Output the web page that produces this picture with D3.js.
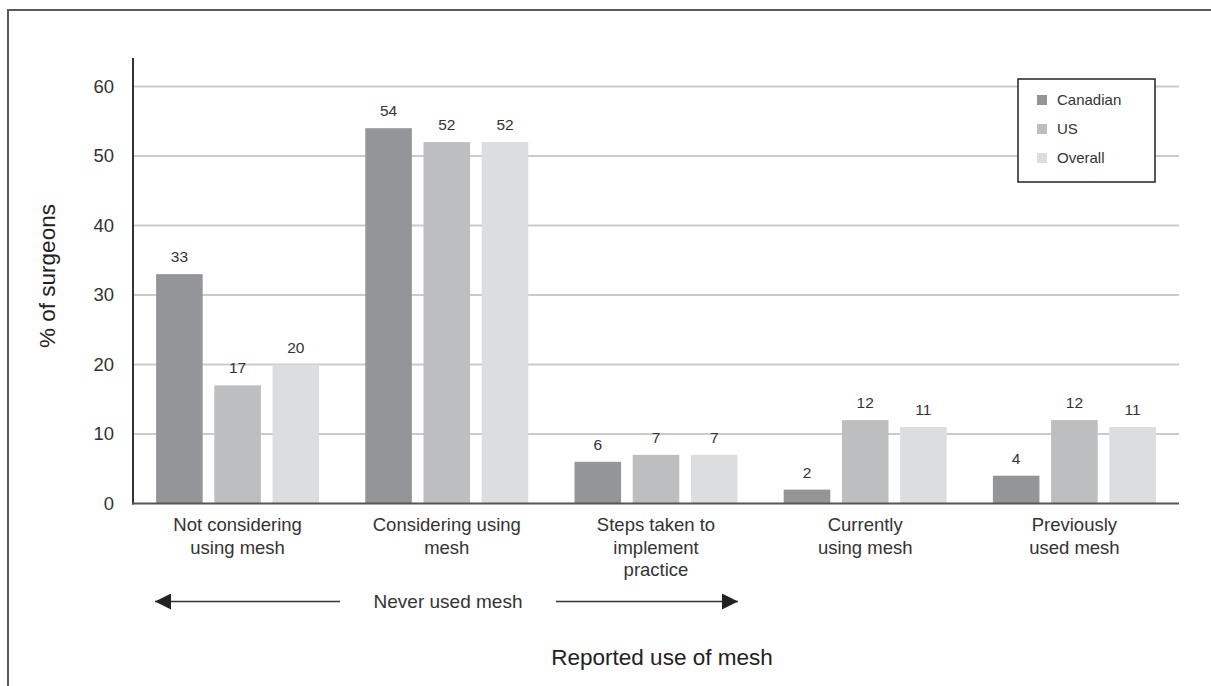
<!DOCTYPE html>
<html>
<head>
<meta charset="utf-8">
<script src="https://cdn.jsdelivr.net/npm/d3@7"></script>
<style>
  html, body { margin: 0; padding: 0; background: #fff; }
  svg { display: block; font-family: "Liberation Sans", Arial, sans-serif; }
</style>
</head>
<body>
<svg id="chart" width="1211" height="686"></svg>
<script>
// Survey responses: reported use of mesh, % of surgeons
const categories = [
  ["Not considering", "using mesh"],
  ["Considering using", "mesh"],
  ["Steps taken to", "implement", "practice"],
  ["Currently", "using mesh"],
  ["Previously", "used mesh"]
];
const seriesNames = ["Canadian", "US", "Overall"];
const canadian = [33, 54, 6, 2, 4];
const us = [17, 52, 7, 12, 12];
const overall = [20, 52, 7, 11, 11];
const yTicks = [0, 10, 20, 30, 40, 50, 60];
const colors = ["#939598", "#bcbec0", "#dcdddf"];

(function draw() {
  const series = [canadian, us, overall];
  const svg = d3.select("#chart");

  // outer frame
  svg.append("path")
    .attr("d", "M8,700 L8,10 L1220,10")
    .attr("fill", "none").attr("stroke", "#5a5a5a").attr("stroke-width", 2);

  const plotLeft = 133, plotRight = 1179, plotTop = 58, plotBottom = 503.5;

  const x0 = d3.scaleBand().domain(d3.range(categories.length)).range([plotLeft, plotRight]);
  const groupWidth = 163;
  const x1 = d3.scaleBand().domain(d3.range(seriesNames.length)).range([0, groupWidth]).paddingInner(0.2);
  const y = d3.scaleLinear().domain([0, 60]).range([plotBottom, 86.5]);

  // gridlines
  svg.append("g").selectAll("line").data(yTicks.filter(t => t > 0)).join("line")
    .attr("x1", plotLeft).attr("x2", plotRight)
    .attr("y1", d => y(d)).attr("y2", d => y(d))
    .attr("stroke", "#cbcbcb").attr("stroke-width", 2);

  // y tick labels
  const yAxis = d3.axisLeft(y).tickValues(yTicks).tickSize(0).tickPadding(19);
  const gy = svg.append("g").attr("transform", `translate(${plotLeft},0)`).call(yAxis);
  gy.select(".domain").remove();
  gy.selectAll("text").attr("font-size", 18.5).attr("fill", "#333")
    .attr("font-family", "Liberation Sans, Arial, sans-serif");

  // bars and value labels
  const groups = svg.append("g").selectAll("g").data(categories).join("g")
    .attr("transform", (d, i) => `translate(${x0(i) + (x0.bandwidth() - groupWidth) / 2},0)`);

  groups.each(function(cat, ci) {
    const g = d3.select(this);
    series.forEach((vals, si) => {
      g.append("rect")
        .attr("x", x1(si)).attr("width", x1.bandwidth())
        .attr("y", y(vals[ci])).attr("height", y(0) - y(vals[ci]))
        .attr("fill", colors[si]);
      g.append("text")
        .attr("x", x1(si) + x1.bandwidth() / 2)
        .attr("y", y(vals[ci]) - 12)
        .attr("text-anchor", "middle")
        .attr("font-size", 15.5).attr("fill", "#333")
        .text(vals[ci]);
    });
  });

  // axis lines
  svg.append("line").attr("x1", plotLeft).attr("x2", plotLeft).attr("y1", plotTop).attr("y2", plotBottom + 1)
    .attr("stroke", "#333").attr("stroke-width", 2);
  svg.append("line").attr("x1", plotLeft - 1).attr("x2", plotRight).attr("y1", plotBottom).attr("y2", plotBottom)
    .attr("stroke", "#555").attr("stroke-width", 2);

  // category labels
  categories.forEach((lines, i) => {
    const cx = x0(i) + x0.bandwidth() / 2;
    const t = svg.append("text")
      .attr("x", cx).attr("y", 531)
      .attr("text-anchor", "middle").attr("font-size", 18.5).attr("fill", "#333");
    lines.forEach((ln, k) => {
      t.append("tspan").attr("x", cx).attr("y", 531 + k * 22.5).text(ln);
    });
  });

  // "Never used mesh" arrows
  const arrowY = 601.5;
  const defs = svg.append("defs");
  defs.append("marker").attr("id", "head")
    .attr("viewBox", "0 0 16 16").attr("refX", 16).attr("refY", 8)
    .attr("markerWidth", 16).attr("markerHeight", 16).attr("markerUnits", "userSpaceOnUse")
    .attr("orient", "auto")
    .append("path").attr("d", "M0,0 L16,8 L0,16 Z").attr("fill", "#222");
  svg.append("line").attr("x1", 340).attr("x2", 155).attr("y1", arrowY).attr("y2", arrowY)
    .attr("stroke", "#333").attr("stroke-width", 1.5).attr("marker-end", "url(#head)");
  svg.append("line").attr("x1", 556).attr("x2", 738).attr("y1", arrowY).attr("y2", arrowY)
    .attr("stroke", "#333").attr("stroke-width", 1.5).attr("marker-end", "url(#head)");
  svg.append("text").attr("x", 448).attr("y", arrowY + 6.5).attr("text-anchor", "middle")
    .attr("font-size", 19).attr("fill", "#333").text("Never used mesh");

  // axis titles
  svg.append("text").attr("x", 662).attr("y", 665).attr("text-anchor", "middle")
    .attr("font-size", 22.5).attr("fill", "#222").text("Reported use of mesh");
  svg.append("text").attr("transform", "translate(55,276) rotate(-90)").attr("text-anchor", "middle")
    .attr("font-size", 22.5).attr("fill", "#222").text("% of surgeons");

  // legend
  const lg = svg.append("g").attr("transform", "translate(1018,79)");
  lg.append("rect").attr("width", 137).attr("height", 103).attr("fill", "#fff")
    .attr("stroke", "#222").attr("stroke-width", 1.5);
  seriesNames.forEach((name, i) => {
    const cy = 21 + i * 29;
    lg.append("rect").attr("x", 19).attr("y", cy - 5).attr("width", 10).attr("height", 10).attr("fill", colors[i]);
    lg.append("text").attr("x", 39).attr("y", cy + 5).attr("font-size", 15).attr("fill", "#333").text(name);
  });
})();
</script>
</body>
</html>
